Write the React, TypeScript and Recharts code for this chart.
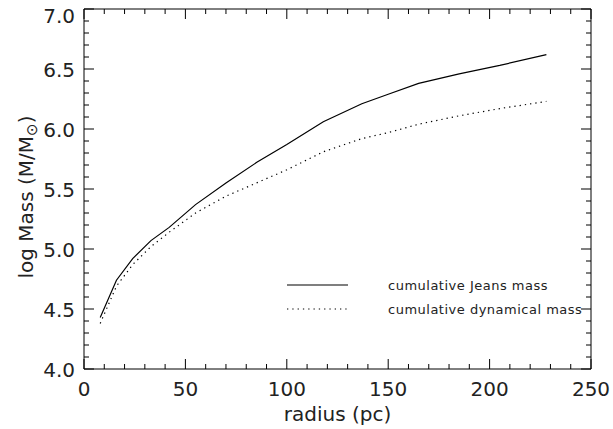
import React from "react";
import { LineChart, Line, XAxis, YAxis, Legend } from "recharts";

const radius = [8, 16, 24, 33, 42, 55, 70, 85, 100, 118, 137, 150, 165, 185, 205, 228];
const jeansMass = [4.43, 4.74, 4.92, 5.07, 5.18, 5.37, 5.55, 5.72, 5.87, 6.06, 6.21, 6.29, 6.38, 6.46, 6.53, 6.62];
const dynMass = [4.38, 4.69, 4.87, 5.02, 5.14, 5.3, 5.44, 5.55, 5.66, 5.81, 5.92, 5.97, 6.04, 6.11, 6.17, 6.23];

const xTicks = [0, 10, 20, 30, 40, 50, 60, 70, 80, 90, 100, 110, 120, 130, 140, 150, 160, 170, 180, 190, 200, 210, 220, 230, 240, 250];
const xMajor = [0, 50, 100, 150, 200, 250];
const yTicks = [4.0, 4.1, 4.2, 4.3, 4.4, 4.5, 4.6, 4.7, 4.8, 4.9, 5.0, 5.1, 5.2, 5.3, 5.4, 5.5, 5.6, 5.7, 5.8, 5.9, 6.0, 6.1, 6.2, 6.3, 6.4, 6.5, 6.6, 6.7, 6.8, 6.9, 7.0];
const yMajorLabels = ["4.0", "4.5", "5.0", "5.5", "6.0", "6.5", "7.0"];

const data = radius.map((r, i) => ({ r, jeans: jeansMass[i], dyn: dynMass[i] }));

const FONT = "'DejaVu Sans', sans-serif";
const TXT = "#222";
const MAJ = 10;
const MIN = 5;

const isYMajor = (v: number) => Math.round(v * 10) % 5 === 0;

const BottomTick = (props: any) => {
  const { x, y, payload } = props;
  const major = xMajor.includes(payload.value);
  const xx = Number(x);
  const yy = Number(y);
  return (
    <g>
      <line x1={xx} x2={xx} y1={yy} y2={yy - (major ? MAJ : MIN)} stroke="#000" strokeWidth={1} />
      {major && (
        <text x={xx} y={yy + 27} textAnchor="middle" fontFamily={FONT} fontSize={20} fill={TXT} stroke="none">
          {payload.value}
        </text>
      )}
    </g>
  );
};

const TopTick = (props: any) => {
  const { x, y, payload } = props;
  const major = xMajor.includes(payload.value);
  const xx = Number(x);
  const yy = Number(y);
  return <line x1={xx} x2={xx} y1={yy} y2={yy + (major ? MAJ : MIN)} stroke="#000" strokeWidth={1} />;
};

const LeftTick = (props: any) => {
  const { x, y, payload } = props;
  const major = isYMajor(payload.value);
  const idx = Math.round((payload.value - 4) * 2);
  const dy = idx === 6 ? 14 : 8;
  const xx = Number(x);
  const yy = Number(y);
  return (
    <g>
      <line x1={xx} x2={xx + (major ? MAJ : MIN)} y1={yy} y2={yy} stroke="#000" strokeWidth={1} />
      {major && (
        <text x={xx - 9} y={yy + dy} textAnchor="end" fontFamily={FONT} fontSize={20} fill={TXT} stroke="none">
          {yMajorLabels[idx]}
        </text>
      )}
    </g>
  );
};

const RightTick = (props: any) => {
  const { x, y, payload } = props;
  const major = isYMajor(payload.value);
  const xx = Number(x);
  const yy = Number(y);
  return <line x1={xx} x2={xx - (major ? MAJ : MIN)} y1={yy} y2={yy} stroke="#000" strokeWidth={1} />;
};

const YLabel = (props: any) => {
  const vb = props.viewBox || {};
  const cx = 33;
  const cy = (vb.y ?? 9) + (vb.height ?? 360) / 2 + 8;
  return (
    <text x={cx} y={cy} transform={`rotate(-90, ${cx}, ${cy})`} textAnchor="middle" fontFamily={FONT} fontSize={20} fill={TXT}>
      log Mass (M/M
      <tspan fontSize={15} dy={4}>{"\u2299"}</tspan>
      <tspan dy={-4}>)</tspan>
    </text>
  );
};

const renderLegend = (props: any) => {
  const { payload } = props;
  return (
    <div style={{ width: 330 }}>
      {(payload || []).map((entry: any, i: number) => (
        <svg key={i} width={330} height={24} style={{ display: "block" }}>
          <line x1={7} x2={68} y1={12} y2={12} stroke="#000" strokeWidth={1.2} strokeDasharray={entry.payload?.strokeDasharray} />
          <text x={108} y={16.5} fontFamily={FONT} fontSize={13} letterSpacing={0.5} fill={TXT}>
            {entry.value}
          </text>
        </svg>
      ))}
    </div>
  );
};

export default function App() {
  return (
    <div style={{ position: "absolute", left: 0, top: 0, width: 613, height: 429, background: "#fff" }}>
      <LineChart width={613} height={429} data={data} margin={{ top: 8, right: 21, bottom: 0, left: 0 }}>
        <XAxis dataKey="r" type="number" domain={[0, 250]} ticks={xTicks} interval={0} tickSize={0} tickMargin={0}
          tickLine={false} axisLine={{ stroke: "#000", strokeWidth: 1 }} tick={<BottomTick />} height={60} allowDataOverflow
          label={{ value: "radius (pc)", position: "insideBottom", offset: 8, style: { fontFamily: FONT, fontSize: 20, fill: TXT } }} />
        <XAxis xAxisId="top" orientation="top" dataKey="r" type="number" domain={[0, 250]} ticks={xTicks} interval={0}
          tickSize={0} tickMargin={0} tickLine={false} axisLine={{ stroke: "#000", strokeWidth: 1 }} tick={<TopTick />} height={1} allowDataOverflow />
        <YAxis type="number" domain={[4, 7]} ticks={yTicks} interval={0} tickSize={0} tickMargin={0} tickLine={false}
          axisLine={{ stroke: "#000", strokeWidth: 1 }} tick={<LeftTick />} width={84} allowDataOverflow label={<YLabel />} />
        <YAxis yAxisId="right" orientation="right" type="number" domain={[4, 7]} ticks={yTicks} interval={0} tickSize={0}
          tickMargin={0} tickLine={false} axisLine={{ stroke: "#000", strokeWidth: 1 }} tick={<RightTick />} width={1} allowDataOverflow />
        <Legend layout="vertical" align="center" verticalAlign="middle" content={renderLegend} wrapperStyle={{ left: 280, top: 273, width: 330 }} />
        <Line name="cumulative Jeans mass" dataKey="jeans" type="linear" stroke="#000" strokeWidth={1.2} dot={false} isAnimationActive={false} />
        <Line name="cumulative dynamical mass" dataKey="dyn" xAxisId="top" yAxisId="right" type="linear" stroke="#000"
          strokeWidth={1.2} strokeDasharray="1.3 4" dot={false} isAnimationActive={false} />
      </LineChart>
    </div>
  );
}
